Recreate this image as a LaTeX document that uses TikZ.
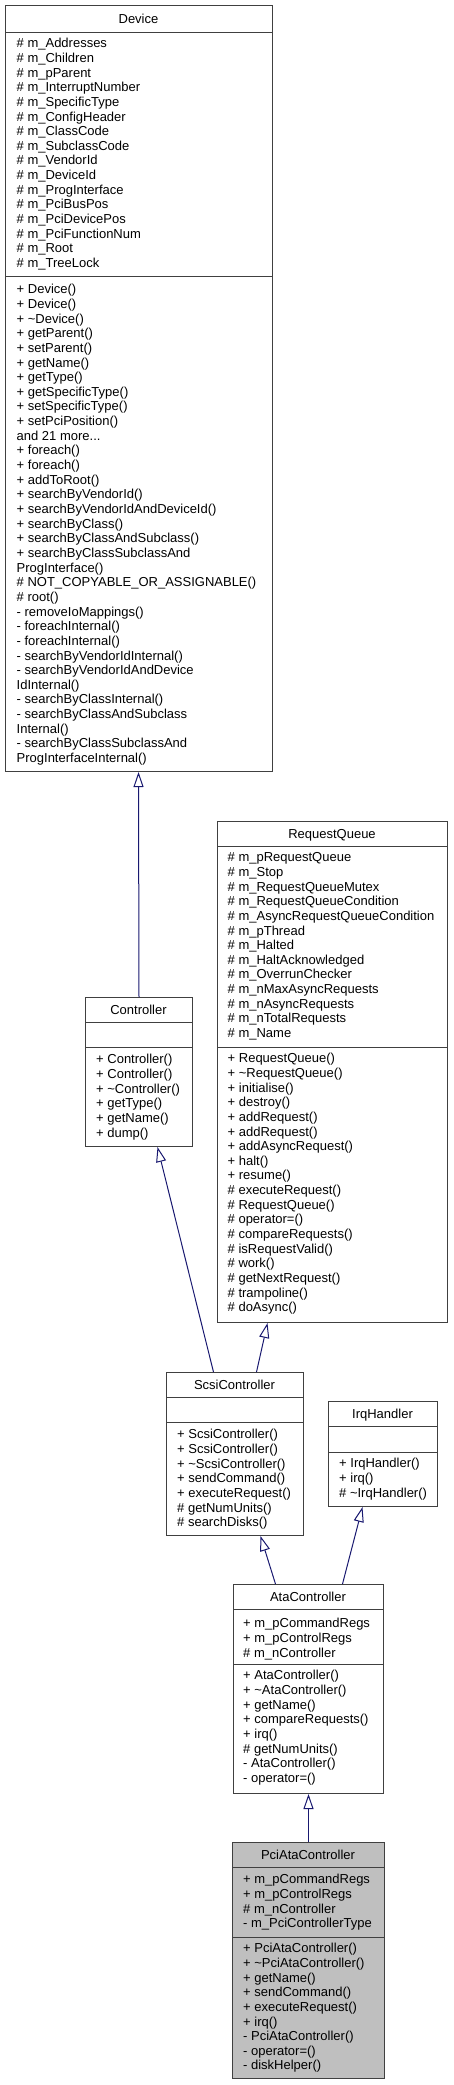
\documentclass[tikz,border=0pt]{standalone}
\usepackage{fontspec}
\setmainfont{Liberation Sans}
\usetikzlibrary{arrows.meta}
\definecolor{edgeblue}{HTML}{191970}
\definecolor{boxgray}{HTML}{404040}
\definecolor{selgray}{HTML}{BFBFBF}
\newcommand{\tl}{\textasciitilde}
\begin{document}
\begin{tikzpicture}[x=1pt,y=-1pt,
  font=\fontsize{13}{14.65}\selectfont,
  classbox/.style={draw=boxgray, line width=1pt, fill=white, inner sep=0pt, anchor=north west},
  sepline/.style={draw=boxgray, line width=1pt},
  titletext/.style={anchor=base, inner sep=0pt},
  members/.style={anchor=north west, align=left, inner sep=0pt},
  inh/.style={draw=edgeblue, line width=1pt, -{Triangle[open, length=15pt, width=10pt]}}]
\useasboundingbox (0,0) rectangle (453,2085);

% ---------------- Device
\node[classbox, minimum width=267pt, minimum height=766pt] (device) at (5,5) {};
\draw[sepline] (device.west |- 0,32) -- (device.east |- 0,32);
\draw[sepline] (device.west |- 0,276) -- (device.east |- 0,276);
\node[titletext] (device-t) at (138.5,23.1) {Device};
\node[members] (device-a) at (16.5,37.3) {\strut\# m\_Addresses\\\# m\_Children\\\# m\_pParent\\\# m\_InterruptNumber\\\# m\_SpecificType\\\# m\_ConfigHeader\\\# m\_ClassCode\\\# m\_SubclassCode\\\# m\_VendorId\\\# m\_DeviceId\\\# m\_ProgInterface\\\# m\_PciBusPos\\\# m\_PciDevicePos\\\# m\_PciFunctionNum\\\# m\_Root\\\# m\_TreeLock};
\node[members] (device-m) at (16.5,283.3) {\strut+ Device()\\+ Device()\\+ \tl Device()\\+ getParent()\\+ setParent()\\+ getName()\\+ getType()\\+ getSpecificType()\\+ setSpecificType()\\+ setPciPosition()\\and 21 more...\\+ foreach()\\+ foreach()\\+ addToRoot()\\+ searchByVendorId()\\+ searchByVendorIdAndDeviceId()\\+ searchByClass()\\+ searchByClassAndSubclass()\\+ searchByClassSubclassAnd\\ProgInterface()\\\# NOT\_COPYABLE\_OR\_ASSIGNABLE()\\\# root()\\- removeIoMappings()\\- foreachInternal()\\- foreachInternal()\\- searchByVendorIdInternal()\\- searchByVendorIdAndDevice\\IdInternal()\\- searchByClassInternal()\\- searchByClassAndSubclass\\Internal()\\- searchByClassSubclassAnd\\ProgInterfaceInternal()};

% ---------------- RequestQueue
\node[classbox, minimum width=230pt, minimum height=501pt] (rq) at (217,821) {};
\draw[sepline] (rq.west |- 0,846) -- (rq.east |- 0,846);
\draw[sepline] (rq.west |- 0,1047) -- (rq.east |- 0,1047);
\node[titletext] (rq-t) at (332,838.1) {RequestQueue};
\node[members] (rq-a) at (227.5,851.3) {\strut\# m\_pRequestQueue\\\# m\_Stop\\\# m\_RequestQueueMutex\\\# m\_RequestQueueCondition\\\# m\_AsyncRequestQueueCondition\\\# m\_pThread\\\# m\_Halted\\\# m\_HaltAcknowledged\\\# m\_OverrunChecker\\\# m\_nMaxAsyncRequests\\\# m\_nAsyncRequests\\\# m\_nTotalRequests\\\# m\_Name};
\node[members] (rq-m) at (227.5,1052.3) {\strut+ RequestQueue()\\+ \tl RequestQueue()\\+ initialise()\\+ destroy()\\+ addRequest()\\+ addRequest()\\+ addAsyncRequest()\\+ halt()\\+ resume()\\\# executeRequest()\\\# RequestQueue()\\\# operator=()\\\# compareRequests()\\\# isRequestValid()\\\# work()\\\# getNextRequest()\\\# trampoline()\\\# doAsync()};

% ---------------- Controller
\node[classbox, minimum width=107pt, minimum height=149pt] (ctrl) at (85,997) {};
\draw[sepline] (ctrl.west |- 0,1022) -- (ctrl.east |- 0,1022);
\draw[sepline] (ctrl.west |- 0,1047) -- (ctrl.east |- 0,1047);
\node[titletext] (ctrl-t) at (138.5,1014.1) {Controller};
\node[members] (ctrl-m) at (96,1053.3) {\strut+ Controller()\\+ Controller()\\+ \tl Controller()\\+ getType()\\+ getName()\\+ dump()};

% ---------------- ScsiController
\node[classbox, minimum width=137pt, minimum height=163pt] (scsi) at (166,1372) {};
\draw[sepline] (scsi.west |- 0,1397) -- (scsi.east |- 0,1397);
\draw[sepline] (scsi.west |- 0,1422) -- (scsi.east |- 0,1422);
\node[titletext] (scsi-t) at (234.5,1389.1) {ScsiController};
\node[members] (scsi-m) at (177,1428.3) {\strut+ ScsiController()\\+ ScsiController()\\+ \tl ScsiController()\\+ sendCommand()\\+ executeRequest()\\\# getNumUnits()\\\# searchDisks()};

% ---------------- IrqHandler
\node[classbox, minimum width=109pt, minimum height=105pt] (irq) at (328,1401) {};
\draw[sepline] (irq.west |- 0,1426) -- (irq.east |- 0,1426);
\draw[sepline] (irq.west |- 0,1452) -- (irq.east |- 0,1452);
\node[titletext] (irq-t) at (382.5,1418.1) {IrqHandler};
\node[members] (irq-m) at (339,1457.3) {\strut+ IrqHandler()\\+ irq()\\\# \tl IrqHandler()};

% ---------------- AtaController
\node[classbox, minimum width=150pt, minimum height=209pt] (ata) at (233,1584) {};
\draw[sepline] (ata.west |- 0,1609) -- (ata.east |- 0,1609);
\draw[sepline] (ata.west |- 0,1664) -- (ata.east |- 0,1664);
\node[titletext] (ata-t) at (308,1601.1) {AtaController};
\node[members] (ata-a) at (243,1617.3) {\strut+ m\_pCommandRegs\\+ m\_pControlRegs\\\# m\_nController};
\node[members] (ata-m) at (243,1669.3) {\strut+ AtaController()\\+ \tl AtaController()\\+ getName()\\+ compareRequests()\\+ irq()\\\# getNumUnits()\\- AtaController()\\- operator=()};

% ---------------- PciAtaController
\node[classbox, fill=selgray, minimum width=152pt, minimum height=236pt] (pci) at (232,1842) {};
\draw[sepline] (pci.west |- 0,1867) -- (pci.east |- 0,1867);
\draw[sepline] (pci.west |- 0,1937) -- (pci.east |- 0,1937);
\node[titletext] (pci-t) at (308,1859.1) {PciAtaController};
\node[members] (pci-a) at (243,1873.3) {\strut+ m\_pCommandRegs\\+ m\_pControlRegs\\\# m\_nController\\- m\_PciControllerType};
\node[members] (pci-m) at (243,1942.3) {\strut+ PciAtaController()\\+ \tl PciAtaController()\\+ getName()\\+ sendCommand()\\+ executeRequest()\\+ irq()\\- PciAtaController()\\- operator=()\\- diskHelper()};

% ---------------- inheritance
\draw[inh] (ctrl.north) -- ([xshift=-0.5pt]device.south);
\draw[inh] ([xshift=-21.5pt]scsi.north) -- ([xshift=18.5pt]ctrl.south);
\draw[inh] ([xshift=21.5pt]scsi.north) -- ([xshift=-65pt]rq.south);
\draw[inh] ([xshift=-33pt]ata.north) -- ([xshift=25.5pt]scsi.south);
\draw[inh] ([xshift=34pt]ata.north) -- ([xshift=-20.5pt]irq.south);
\draw[inh] (pci.north) -- (ata.south);
\end{tikzpicture}
\end{document}
